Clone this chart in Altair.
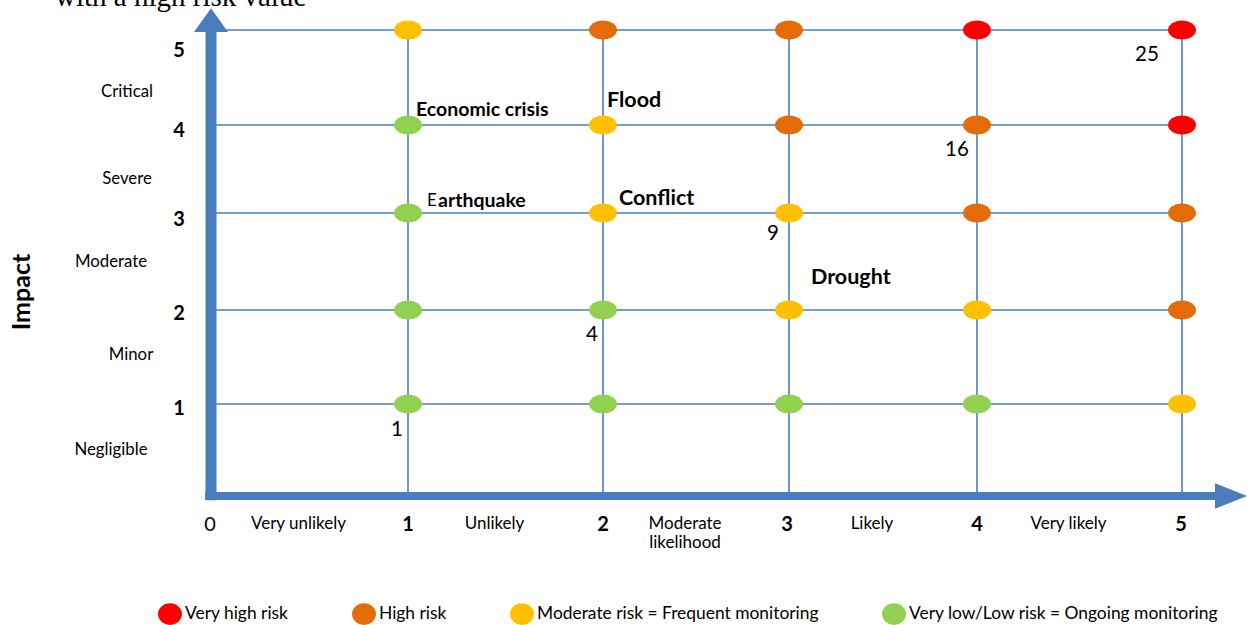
import altair as alt
import pandas as pd

# ---------------- data ----------------
levels = [1, 2, 3, 4, 5]
likelihood_labels = ["Very unlikely", "Unlikely", "Moderate\nlikelihood", "Likely", "Very likely"]
impact_labels = ["Negligible", "Minor", "Moderate", "Severe", "Critical"]
risk_categories = ["Very high risk", "High risk",
                   "Moderate risk = Frequent monitoring",
                   "Very low/Low risk = Ongoing monitoring"]
risk_colors = ["#FF0000", "#E36C09", "#FFC000", "#92D050"]
# rows: impact 1..5 ; columns: likelihood 1..5 (index into risk_categories)
matrix = [
    [3, 3, 3, 3, 2],  # impact 1
    [3, 3, 2, 2, 1],  # impact 2
    [3, 2, 2, 1, 1],  # impact 3
    [3, 2, 1, 1, 0],  # impact 4
    [2, 1, 1, 0, 0],  # impact 5
]
score_values = [1, 4, 9, 16, 25]
risk_names = ["Economic crisis", "Flood", "Earthquake", "Conflict", "Drought"]
risk_likelihood = [1, 2, 1, 2, 3]
risk_impact = [4, 4, 3, 3, 2]

# ---------------- style / layout ----------------
BLUE = "#4A7EBB"
FONT = "Lato"
xs = alt.Scale(domain=[0, 1, 2, 3, 4, 5], range=[211, 408, 603, 789, 977, 1182],
               nice=False, zero=False)
ys = alt.Scale(domain=[0, 1, 2, 3, 4, 5], range=[496, 404, 310, 213, 125, 30],
               nice=False, zero=False)
ELLIPSE = "M-1,0A1,0.68,0,1,1,1,0A1,0.68,0,1,1,-1,0Z"
LEG_ELLIPSE = "M-1,0A1,0.9,0,1,1,1,0A1,0.9,0,1,1,-1,0Z"


def X(f):
    return alt.X(f, type="quantitative", scale=xs, axis=None)


def Y(f):
    return alt.Y(f, type="quantitative", scale=ys, axis=None)


def text_layer(text, xv, yv, dx=0, dy=0, size=16, weight="normal", align="center",
               baseline="middle", font=FONT, angle=0, **kw):
    df = pd.DataFrame({"x": [xv], "y": [yv], "t": [text]})
    props = dict(fontSize=size, fontWeight=weight, align=align,
                 baseline=baseline, font=font, color="black", **kw)
    if dx:
        props["dx"] = dx
    if dy:
        props["dy"] = dy
    if angle:
        props["angle"] = angle
    return alt.Chart(df).mark_text(**props).encode(x=X("x"), y=Y("y"), text="t:N")


layers = []

# grid lines
hdf = pd.DataFrame({"y": levels, "x0": [0] * 5, "x1": [5] * 5})
layers.append(alt.Chart(hdf).mark_rule(color=BLUE, strokeWidth=1.6).encode(
    x=X("x0"), x2="x1", y=Y("y")))
vdf = pd.DataFrame({"x": levels, "y0": [0] * 5, "y1": [5] * 5})
layers.append(alt.Chart(vdf).mark_rule(color=BLUE, strokeWidth=1.6).encode(
    x=X("x"), y=Y("y0"), y2="y1"))

# axis arrows
layers.append(alt.Chart(pd.DataFrame({"x": [0], "y0": [-0.045], "y1": [5.03]}))
              .mark_rule(color=BLUE, strokeWidth=11, strokeCap="butt")
              .encode(x=X("x"), y=Y("y0"), y2="y1"))
layers.append(alt.Chart(pd.DataFrame({"y": [0], "x0": [-0.03], "x1": [5.17]}))
              .mark_rule(color=BLUE, strokeWidth=8, strokeCap="butt")
              .encode(y=Y("y"), x=X("x0"), x2="x1"))
layers.append(alt.Chart(pd.DataFrame({"x": [0], "y": [5.105]}))
              .mark_point(shape="M0,-0.7L1,0.7L-1,0.7Z", filled=True, size=34 * 34,
                          color=BLUE, opacity=1, strokeWidth=0)
              .encode(x=X("x"), y=Y("y")))
layers.append(alt.Chart(pd.DataFrame({"x": [5.239], "y": [0]}))
              .mark_point(shape="M1,0L-1,-0.8L-1,0.8Z", filled=True, size=32 * 32,
                          color=BLUE, opacity=1, strokeWidth=0)
              .encode(x=X("x"), y=Y("y")))

# ellipses
rows = []
for i, imp in enumerate(levels):
    for j, lik in enumerate(levels):
        rows.append({"lik": lik, "imp": imp, "cat": risk_categories[matrix[i][j]]})
edf = pd.DataFrame(rows)
layers.append(alt.Chart(edf).mark_point(shape=ELLIPSE, filled=True, size=28 * 28,
                                        opacity=1, strokeWidth=0).encode(
    x=X("lik"), y=Y("imp"),
    color=alt.Color("cat:N", scale=alt.Scale(domain=risk_categories, range=risk_colors),
                    legend=alt.Legend(orient="none", legendX=158, legendY=602,
                                      direction="horizontal", title=None,
                                      symbolType=LEG_ELLIPSE, symbolSize=576,
                                      symbolStrokeWidth=0, symbolOpacity=1,
                                      labelFont=FONT, labelFontSize=17.4,
                                      labelColor="black", labelLimit=500,
                                      labelOffset=3, columnPadding=63, padding=0))))

# y-axis numbers and impact descriptors
num_dy = [5, 4, 7, 6, 21]
for lvl, dy in zip(levels, num_dy):
    layers.append(text_layer(str(lvl), 0, lvl, dx=-32, dy=dy, size=20, weight="bold"))
imp_dx = [-100, -80, -100, -84, -84]
imp_dy = [0, -2, 0, 10, 14]
for lvl, lab, dx, dy in zip(levels, impact_labels, imp_dx, imp_dy):
    layers.append(text_layer(lab, 0, lvl - 0.5, dx=dx, dy=dy, size=16.8))
layers.append(text_layer("Impact", -0.96, 2.186, size=25, weight="bold", angle=270))

# x-axis numbers and likelihood descriptors
layers.append(text_layer("0", 0, 0, dx=-1, dy=29, size=20))
num_dx = [0, 0, -2, 0, -1]
for lvl, dx in zip(levels, num_dx):
    layers.append(text_layer(str(lvl), lvl, 0, dx=dx, dy=29, size=20, weight="bold"))
for lvl, lab in zip(levels, likelihood_labels):
    layers.append(text_layer(lab, lvl - 0.5, 0, dx=-11, dy=20, size=17, baseline="top",
                             lineBreak="\n", lineHeight=19))

# score numbers on the diagonal
score_dx = [-11, -11, -16, -20, -35]
score_dy = [26, 25, 21, 25, 25]
for lvl, s, dx, dy in zip(levels, score_values, score_dx, score_dy):
    layers.append(text_layer(str(s), lvl, lvl, dx=dx, dy=dy, size=20.5))

# risk names
risk_dx = [8, 4, 19, 16, 22]
risk_dy = [-15, -24, -12, -14, -32]
risk_size = [19.5, 21.5, 19.5, 21.5, 21.5]
for name, lk, im, dx, dy, sz in zip(risk_names, risk_likelihood, risk_impact,
                                    risk_dx, risk_dy, risk_size):
    if name == "Earthquake":
        layers.append(text_layer(name[0], lk, im, dx=dx, dy=dy, size=17, align="left"))
        layers.append(text_layer(name[1:], lk, im, dx=dx + 11, dy=dy, size=sz,
                                 weight="bold", align="left"))
    else:
        layers.append(text_layer(name, lk, im, dx=dx, dy=dy, size=sz, weight="bold",
                                 align="left"))

# cut-off title at top
layers.append(text_layer("with a high risk value", 0, 5, dx=-156, dy=-24, size=29,
                         align="left", baseline="alphabetic", font="Liberation Serif"))

chart = alt.layer(*layers).properties(
    width=1247, height=625,
    autosize=alt.AutoSizeParams(type="none"),
    padding=0,
    background="white",
).configure_view(stroke=None)

chart.save("out.html", embed_options={"renderer": "svg", "actions": False})
